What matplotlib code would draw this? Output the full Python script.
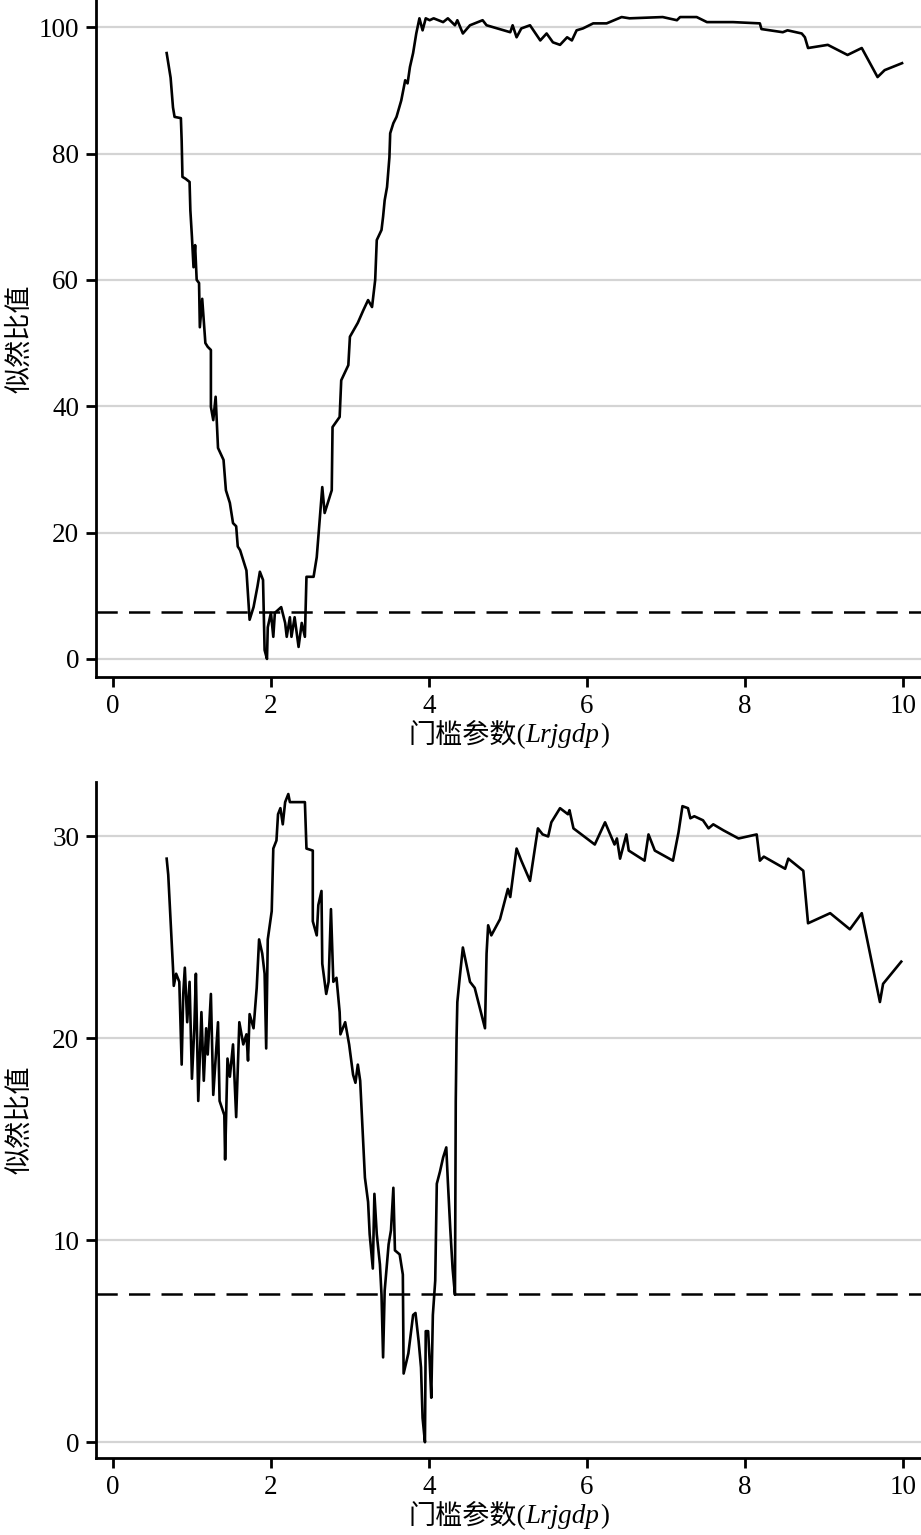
import matplotlib
matplotlib.use("Agg")
import matplotlib.pyplot as plt
from matplotlib.offsetbox import TextArea, HPacker, AnchoredOffsetbox

plt.rcParams['font.family'] = ['Liberation Serif', 'Noto Sans CJK SC']

###############################################################################
# Values.
top_x = [0.68, 0.70, 0.73, 0.76, 0.78, 0.86, 0.87, 0.88, 0.92, 0.97, 0.98, 1.00,
         1.02, 1.04, 1.06, 1.09, 1.10, 1.13, 1.17, 1.20, 1.24, 1.24, 1.27, 1.30,
         1.33, 1.40, 1.43, 1.48, 1.52, 1.56, 1.58, 1.61, 1.69, 1.73, 1.78, 1.83,
         1.86, 1.90, 1.92, 1.95, 1.96, 2.00, 2.03, 2.05, 2.13, 2.18, 2.20, 2.24,
         2.26, 2.30, 2.35, 2.39, 2.43, 2.45, 2.54, 2.58, 2.62, 2.65, 2.68, 2.77,
         2.78, 2.87, 2.89, 2.98, 2.99, 3.00, 3.10, 3.17, 3.23, 3.28, 3.32, 3.34,
         3.40, 3.42, 3.44, 3.47, 3.50, 3.51, 3.55, 3.59, 3.65, 3.70, 3.73, 3.76,
         3.80, 3.84, 3.88, 3.92, 3.96, 4.01, 4.06, 4.18, 4.24, 4.33, 4.36, 4.43,
         4.52, 4.68, 4.73, 5.03, 5.06, 5.11, 5.17, 5.28, 5.41, 5.49, 5.57, 5.66,
         5.75, 5.81, 5.87, 5.95, 6.08, 6.25, 6.44, 6.54, 6.96, 7.14, 7.18, 7.39,
         7.52, 7.85, 8.19, 8.21, 8.48, 8.54, 8.72, 8.76, 8.80, 9.05, 9.30, 9.48,
         9.68, 9.77, 9.99]
top_y = [95.9, 94.3, 92.0, 87.3, 85.8, 85.6, 82.0, 76.3, 76.0, 75.5, 71.0, 66.8,
         62.0, 65.5, 60.0, 59.5, 52.5, 57.0, 50.0, 49.4, 48.9, 39.9, 37.8, 41.5,
         33.4, 31.5, 26.7, 24.7, 21.5, 21.0, 17.8, 17.2, 14.0, 6.2, 8.2, 11.5,
         13.8, 12.5, 1.4, 0.0, 5.0, 7.3, 3.5, 7.3, 8.2, 5.7, 3.5, 6.6,
         3.5, 6.6, 1.9, 5.7, 3.5, 13.0, 13.0, 16.1, 22.5, 27.2, 23.1, 26.7,
         36.7, 38.3, 44.1, 46.5, 48.9, 51.0, 53.2, 55.2, 56.8, 55.7, 60.0, 66.3,
         67.9, 70.0, 72.6, 74.7, 79.4, 83.2, 84.8, 85.8, 88.4, 91.6, 91.1, 93.7,
         95.9, 99.0, 101.4, 99.5, 101.4, 101.1, 101.4, 100.8, 101.4, 100.3, 101.1, 99.0,
         100.3, 101.1, 100.3, 99.2, 100.3, 98.4, 99.8, 100.3, 97.9, 99.0, 97.6, 97.2,
         98.4, 97.9, 99.5, 99.8, 100.6, 100.6, 101.6, 101.4, 101.6, 101.1, 101.6, 101.6,
         100.8, 100.8, 100.6, 99.7, 99.2, 99.5, 99.0, 98.4, 96.7, 97.2, 95.6, 96.7,
         92.1, 93.2, 94.3]

bot_x = [0.68, 0.70, 0.72, 0.74, 0.76, 0.77, 0.80, 0.84, 0.87, 0.89, 0.91, 0.94,
         0.97, 1.00, 1.03, 1.05, 1.08, 1.12, 1.15, 1.18, 1.20, 1.24, 1.27, 1.33,
         1.35, 1.41, 1.42, 1.45, 1.48, 1.52, 1.56, 1.60, 1.65, 1.69, 1.71, 1.73,
         1.78, 1.82, 1.85, 1.89, 1.92, 1.94, 1.96, 2.01, 2.03, 2.07, 2.09, 2.12,
         2.15, 2.18, 2.22, 2.24, 2.43, 2.45, 2.53, 2.53, 2.58, 2.60, 2.64, 2.65,
         2.70, 2.73, 2.76, 2.79, 2.83, 2.87, 2.88, 2.94, 2.99, 3.04, 3.07, 3.10,
         3.13, 3.16, 3.19, 3.23, 3.25, 3.29, 3.31, 3.34, 3.38, 3.40, 3.42, 3.44,
         3.49, 3.52, 3.55, 3.57, 3.63, 3.67, 3.68, 3.74, 3.80, 3.83, 3.87, 3.90,
         3.92, 3.95, 3.96, 3.99, 4.01, 4.03, 4.05, 4.08, 4.10, 4.14, 4.18, 4.22,
         4.24, 4.27, 4.30, 4.33, 4.34, 4.35, 4.36, 4.39, 4.43, 4.52, 4.58, 4.71,
         4.73, 4.75, 4.79, 4.90, 5.00, 5.03, 5.07, 5.11, 5.17, 5.28, 5.38, 5.44,
         5.51, 5.55, 5.66, 5.76, 5.78, 5.83, 6.10, 6.23, 6.35, 6.38, 6.42, 6.50,
         6.53, 6.73, 6.78, 6.86, 7.09, 7.16, 7.21, 7.28, 7.31, 7.36, 7.47, 7.54,
         7.60, 7.73, 7.92, 8.15, 8.19, 8.24, 8.51, 8.55, 8.74, 8.80, 9.08, 9.33,
         9.48, 9.71, 9.75, 9.98]
bot_y = [28.9, 28.1, 26.6, 25.1, 23.5, 22.6, 23.2, 22.8, 18.7, 22.2, 23.5, 20.8,
         22.8, 18.0, 20.5, 23.2, 16.9, 21.3, 17.9, 20.5, 19.2, 22.2, 17.2, 20.8,
         16.9, 16.2, 14.0, 19.0, 18.1, 19.7, 16.1, 20.8, 19.7, 20.2, 18.9, 21.2,
         20.5, 22.5, 24.9, 24.2, 23.2, 19.5, 24.9, 26.3, 29.4, 29.8, 31.1, 31.4,
         30.6, 31.7, 32.1, 31.7, 31.7, 29.4, 29.3, 25.8, 25.1, 26.6, 27.3, 23.7,
         22.2, 22.8, 26.4, 22.8, 23.0, 21.3, 20.2, 20.8, 19.7, 18.2, 17.8, 18.7,
         17.9, 15.5, 13.1, 11.9, 10.3, 8.6, 12.3, 10.3, 8.8, 7.3, 4.2, 7.5,
         9.8, 10.5, 12.6, 9.5, 9.3, 8.3, 3.4, 4.4, 6.3, 6.4, 5.0, 3.7,
         1.2, 0.0, 5.5, 5.5, 4.0, 2.2, 6.3, 8.0, 12.8, 13.4, 14.1, 14.6,
         12.9, 10.6, 8.6, 7.3, 16.9, 20.0, 21.8, 23.0, 24.5, 22.8, 22.5, 20.5,
         24.2, 25.6, 25.1, 25.9, 27.4, 27.0, 28.2, 29.4, 28.8, 27.8, 30.4, 30.1,
         30.0, 30.7, 31.4, 31.1, 31.3, 30.4, 29.6, 30.7, 29.6, 29.9, 28.9, 30.1,
         29.3, 28.8, 30.1, 29.3, 28.8, 30.2, 31.5, 31.4, 30.9, 31.0, 30.8, 30.4,
         30.6, 30.3, 29.9, 30.1, 28.8, 29.0, 28.4, 28.9, 28.3, 25.7, 26.2, 25.4,
         26.2, 21.8, 22.7, 23.8]

critical_value = 7.35
x_ticks = [0, 2, 4, 6, 8, 10]
top_yticks = [0, 20, 40, 60, 80, 100]
bot_yticks = [0, 10, 20, 30]

###############################################################################
# Plot
fig = plt.figure(figsize=(9.21, 15.35), dpi=100)
ax_top = fig.add_axes([0.1042, 0.5590, 0.8958, 0.4410])
ax_bot = fig.add_axes([0.1042, 0.0502, 0.8958, 0.4404])

fs = 19.5


def style_axes(ax, xs, ys, yticks, ylim):
    ax.plot(xs, ys, color='black', lw=1.9, zorder=3)
    ax.axhline(critical_value, color='black', lw=1.8, ls=(0, (8.5, 4.5)), zorder=2)
    ax.set_xlim(-0.215, 10.23)
    ax.set_ylim(*ylim)
    ax.set_xticks(x_ticks)
    ax.set_yticks(yticks)
    ax.grid(axis='y', color='#d4d4d4', lw=1.6, zorder=0)
    ax.set_axisbelow(True)
    for side in ['top', 'right']:
        ax.spines[side].set_visible(False)
    for side in ['left', 'bottom']:
        ax.spines[side].set_linewidth(2.0)
    ax.tick_params(direction='out', length=7, width=2.0, labelsize=fs, pad=5)
    ax.set_ylabel('似然比值', fontsize=fs)
    ax.yaxis.set_label_coords(-0.076, 0.5)

    # x label with the italic variable name
    parts = [TextArea('门槛参数(', textprops=dict(size=fs)),
             TextArea('Lrjgdp', textprops=dict(size=fs, style='italic',
                                               family='Liberation Serif')),
             TextArea(')', textprops=dict(size=fs))]
    box = HPacker(children=parts, align='baseline', pad=0, sep=0)
    anchored = AnchoredOffsetbox(loc='upper center', child=box, pad=0, borderpad=0,
                                 frameon=False, bbox_to_anchor=(0.5, -0.062),
                                 bbox_transform=ax.transAxes)
    ax.add_artist(anchored)


style_axes(ax_top, top_x, top_y, top_yticks, (-2.85, 104.3))
style_axes(ax_bot, bot_x, bot_y, bot_yticks, (-0.78, 32.7))

fig.savefig('out.png', dpi=100)
